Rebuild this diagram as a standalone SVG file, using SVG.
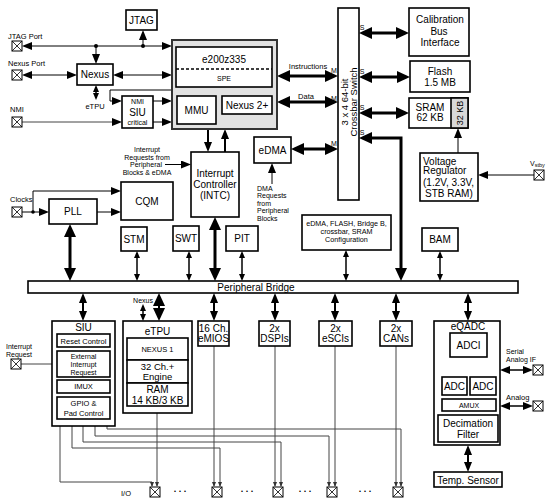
<svg xmlns="http://www.w3.org/2000/svg" xmlns:xlink="http://www.w3.org/1999/xlink" width="554" height="503" viewBox="0 0 554 503">
<style>
.b{fill:#fff;stroke:#000;stroke-width:1.6}
.t{font-family:"Liberation Sans",Arial,sans-serif;font-size:10px;text-anchor:middle;dominant-baseline:central;fill:#000}
.s{font-size:7.5px}
.q{font-size:7px}
.xs{font-size:7px}
.l{text-anchor:start}
.c1{fill:none;stroke:#000;stroke-width:1}
.c2{fill:none;stroke:#000;stroke-width:2}
.c3{fill:none;stroke:#000;stroke-width:3}
.cs{fill:none;stroke:#000;stroke-width:1.5}
.w{fill:none;stroke:#444;stroke-width:1}
.B{marker-end:url(#aB);marker-start:url(#aB)}
.Be{marker-end:url(#aB)}
.M{marker-end:url(#aM);marker-start:url(#aM)}
.Me{marker-end:url(#aM)}
.S{marker-end:url(#aS);marker-start:url(#aS)}
.T{marker-end:url(#aT);marker-start:url(#aT)}
.Te{marker-end:url(#aT)}
</style>
<defs>
<marker id="aB" viewBox="0 0 13 12" refX="8" refY="6" markerWidth="13" markerHeight="12" markerUnits="userSpaceOnUse" orient="auto-start-reverse"><path d="M0,0L13,6L0,12z"/></marker>
<marker id="aM" viewBox="0 0 10 8" refX="7" refY="4" markerWidth="10" markerHeight="8" markerUnits="userSpaceOnUse" orient="auto-start-reverse"><path d="M0,0L10,4L0,8z"/></marker>
<marker id="aS" viewBox="0 0 7 6" refX="5" refY="3" markerWidth="7" markerHeight="6" markerUnits="userSpaceOnUse" orient="auto-start-reverse"><path d="M0,0L7,3L0,6z"/></marker>
<marker id="aT" viewBox="0 0 5 4" refX="4" refY="2" markerWidth="5" markerHeight="4" markerUnits="userSpaceOnUse" orient="auto-start-reverse"><path fill="#333" d="M0,0L5,2L0,4z"/></marker>
<g id="pad"><rect x="0" y="0" width="10" height="10" fill="#fff" stroke="#000" stroke-width="1"/><path d="M0,0L10,10M10,0L0,10" stroke="#000" stroke-width="0.8"/></g>
</defs>
<rect width="554" height="503" fill="#fff"/>

<g id="connectors">
<line class="c1 M" x1="25" y1="46" x2="169" y2="46"/>
<line class="c1 Me" x1="143" y1="46" x2="143" y2="33"/>
<line class="c1 Me" x1="96" y1="46" x2="96" y2="61"/>
<circle cx="96" cy="46" r="2"/>
<circle cx="143" cy="46" r="2"/>
<line class="c1 M" x1="25" y1="75" x2="74" y2="75"/>
<line class="c1 M" x1="116" y1="75" x2="169" y2="75"/>
<line class="cs S" x1="96" y1="87" x2="96" y2="98"/>
<line class="w Me" x1="22" y1="122" x2="119" y2="122"/>
<path class="c1 Me" d="M172,90H110V101H119"/>
<line class="c1 Me" x1="153" y1="101" x2="169" y2="101"/>
<line class="c1 Me" x1="153" y1="122" x2="169" y2="122"/>
<line class="c3 B" x1="282" y1="76" x2="333" y2="76"/>
<line class="c3 B" x1="282" y1="102" x2="333" y2="102"/>
<line class="c3 B" x1="296" y1="149" x2="333" y2="149"/>
<line class="c3 B" x1="364" y1="33" x2="404" y2="33"/>
<line class="c3 B" x1="364" y1="77" x2="405" y2="77"/>
<line class="c3 B" x1="364" y1="113" x2="404" y2="113"/>
<path class="c3 B" d="M364,138H401V276"/>
<line class="c1 Me" x1="458" y1="153" x2="458" y2="131"/>
<line class="c1 Me" x1="534" y1="175" x2="481" y2="175"/>
<line class="c1 Me" x1="272" y1="184" x2="272" y2="166"/>
<line class="c1 Me" x1="165" y1="164.5" x2="188" y2="164.5"/>
<line class="c2 Me" x1="208" y1="129" x2="208" y2="149"/>
<line class="c2 Me" x1="225" y1="152" x2="225" y2="132"/>
<line class="c1 Me" x1="22" y1="212" x2="46" y2="212"/>
<path class="c1 Me" d="M33,212V191H118"/>
<circle cx="33" cy="212" r="1.8"/>
<line class="c1 Me" x1="97" y1="212" x2="118" y2="212"/>
<line class="c3 B" x1="70" y1="229" x2="70" y2="276"/>
<line class="c3 B" x1="215" y1="222" x2="215" y2="276"/>
<line class="cs S" x1="137" y1="253" x2="137" y2="279"/>
<line class="cs S" x1="189" y1="253" x2="189" y2="279"/>
<line class="cs S" x1="242" y1="253" x2="242" y2="279"/>
<line class="cs S" x1="346" y1="252" x2="346" y2="279"/>
<line class="cs S" x1="440" y1="253" x2="440" y2="279"/>
<line class="c2 M" x1="83" y1="296" x2="83" y2="318"/>
<line class="c2 B" x1="159" y1="298" x2="159" y2="316"/>
<line class="cs S" x1="143" y1="306" x2="143" y2="319"/>
<line class="c2 M" x1="214" y1="296" x2="214" y2="318"/>
<line class="c2 M" x1="275" y1="296" x2="275" y2="318"/>
<line class="c2 M" x1="335" y1="296" x2="335" y2="318"/>
<line class="c2 M" x1="396" y1="296" x2="396" y2="318"/>
<line class="c2 M" x1="468" y1="296" x2="468" y2="318"/>
<line class="cs S" x1="454" y1="359" x2="454" y2="375"/>
<line class="cs S" x1="482" y1="359" x2="482" y2="375"/>
<line class="c1" x1="454" y1="395" x2="454" y2="399"/>
<line class="c1" x1="482" y1="395" x2="482" y2="399"/>
<line class="c2 M" x1="468" y1="448" x2="468" y2="469"/>
<line class="cs M" x1="503" y1="370" x2="530" y2="370"/>
<line class="cs M" x1="503" y1="406" x2="530" y2="406"/>
<line class="w Te" x1="21" y1="364" x2="56" y2="364"/>
<line class="w Te" x1="157" y1="413" x2="157" y2="486"/>
<line class="w Te" x1="214" y1="346" x2="214" y2="486"/>
<line class="w Te" x1="275" y1="346" x2="275" y2="486"/>
<line class="w Te" x1="335" y1="346" x2="335" y2="486"/>
<line class="w Te" x1="396" y1="346" x2="396" y2="486"/>
<path class="w T" d="M60,421V482H152V486"/>
<path class="w T" d="M72,421V448H220V486"/>
<path class="w T" d="M83,421V442H281V486"/>
<path class="w T" d="M95,421V436H329V486"/>
<path class="w T" d="M107,421V429H401V486"/>
</g>

<g id="labels">
<text class="t s l" x="8" y="36">JTAG Port</text>
<text class="t s l" x="8" y="63.5">Nexus Port</text>
<text class="t s l" x="10" y="109">NMI</text>
<text class="t s" x="95" y="106">eTPU</text>
<text class="t s l" x="10" y="199">Clocks</text>
<text class="t q" x="19" y="346.5">Interrupt</text>
<text class="t q" x="19" y="354.5">Request</text>
<text class="t s" x="308" y="66">Instructions</text>
<text class="t s" x="306" y="96">Data</text>
<text class="t xs" x="334" y="70">M</text>
<text class="t xs" x="334" y="98">M</text>
<text class="t xs" x="334" y="143">M</text>
<text class="t xs" x="362" y="27">S</text>
<text class="t xs" x="362" y="71">S</text>
<text class="t xs" x="362" y="107">S</text>
<text class="t xs" x="362" y="132">S</text>
<text class="t q" x="147" y="149.5">Interrupt</text>
<text class="t q" x="147" y="157">Requests from</text>
<text class="t q" x="146" y="164.5">Peripheral</text>
<text class="t q" x="147" y="172">Blocks &amp; eDMA</text>
<text class="t q l" x="257" y="188">DMA</text>
<text class="t q l" x="257" y="195.5">Requests</text>
<text class="t q l" x="257" y="203">from</text>
<text class="t q l" x="257" y="210.5">Peripheral</text>
<text class="t q l" x="257" y="218">Blocks</text>
<text class="t xs l" x="530" y="163">V<tspan font-size="5.5" dy="1.5">stby</tspan></text>
<text class="t q l" x="506" y="351.5">Serial</text>
<text class="t q l" x="506" y="359">Analog IF</text>
<text class="t s l" x="506" y="397">Analog</text>
<text class="t s" x="126" y="493">I/O</text>
<text class="t" x="143" y="300" style="font-size:7px">Nexus</text>
<text class="t" x="180" y="489" style="font-weight:bold;font-size:9px">. . .</text>
<text class="t" x="247" y="489" style="font-weight:bold;font-size:9px">. . .</text>
<text class="t" x="305" y="489" style="font-weight:bold;font-size:9px">. . .</text>
<text class="t" x="365" y="489" style="font-weight:bold;font-size:9px">. . .</text>
</g>

<g id="pads">
<use xlink:href="#pad" x="12" y="41"/>
<use xlink:href="#pad" x="12" y="70"/>
<use xlink:href="#pad" x="12" y="117"/>
<use xlink:href="#pad" x="12" y="207"/>
<use xlink:href="#pad" x="11" y="359"/>
<use xlink:href="#pad" x="534" y="170"/>
<use xlink:href="#pad" x="533" y="365"/>
<use xlink:href="#pad" x="533" y="401"/>
<use xlink:href="#pad" x="150" y="487"/>
<use xlink:href="#pad" x="212" y="487"/>
<use xlink:href="#pad" x="273" y="487"/>
<use xlink:href="#pad" x="327" y="487"/>
<use xlink:href="#pad" x="393" y="487"/>
</g>

<g id="jtag"><rect class="b" x="126" y="10" width="31" height="20"/><text class="t" x="141.5" y="20">JTAG</text></g>
<g id="nexus"><rect class="b" x="77" y="64" width="36" height="21"/><text class="t" x="95" y="74.5">Nexus</text></g>
<g id="nmi-siu"><rect class="b" x="122" y="96" width="31" height="32"/><text class="t xs" x="137.5" y="101.5">NMI</text><text class="t" x="137.5" y="112">SIU</text><text class="t xs" x="137.5" y="122.5">critical</text></g>
<g id="core">
<rect x="172" y="40" width="105" height="89" fill="#e2e2e2" stroke="#333" stroke-width="2"/>
<rect class="b" x="176" y="47" width="96" height="40"/>
<text class="t" x="224" y="59.5">e200z335</text>
<line x1="176" y1="69" x2="272" y2="69" stroke="#000" stroke-width="1.5" stroke-dasharray="3 2"/>
<text class="t xs" x="224" y="78.5">SPE</text>
<rect class="b" x="177" y="96" width="39" height="28"/><text class="t" x="196.5" y="110">MMU</text>
<rect class="b" x="222" y="96" width="50" height="18"/><text class="t" x="247" y="105">Nexus 2+</text>
</g>
<g id="crossbar"><rect class="b" x="338" y="8" width="21" height="192"/>
<text class="t" style="font-size:9.5px" transform="rotate(-90 344 102)" x="344" y="102">3 x 4  64-bit</text>
<text class="t" style="font-size:9.5px" transform="rotate(-90 353 102)" x="353" y="102">Crossbar Switch</text></g>
<g id="calib"><rect class="b" x="409" y="8" width="60" height="48"/><text class="t" x="440" y="19.5">Calibration</text><text class="t" x="439" y="31.5">Bus</text><text class="t" x="440" y="42.5">Interface</text></g>
<g id="flash"><rect class="b" x="410" y="61" width="60" height="31"/><text class="t" x="440" y="71">Flash</text><text class="t" x="440" y="82">1.5 MB</text></g>
<g id="sram"><rect class="b" x="409" y="98" width="59" height="30"/><rect x="451" y="98" width="17" height="30" fill="#d8d8d8" stroke="#000" stroke-width="1.6"/>
<text class="t" x="430" y="107">SRAM</text><text class="t" x="430" y="117.5">62 KB</text>
<text class="t" style="font-size:9px" transform="rotate(-90 460 113)" x="460" y="113">32 KB</text></g>
<g id="vreg"><rect class="b" x="420" y="153" width="58" height="48"/>
<text class="t l" x="423" y="161">Voltage</text><text class="t l" x="423" y="170.5">Regulator</text><text class="t l" x="423" y="182.5">(1.2V, 3.3V,</text><text class="t l" x="425" y="193">STB RAM)</text></g>
<g id="edma"><rect class="b" x="254" y="137" width="37" height="26"/><text class="t" x="272.5" y="150">eDMA</text></g>
<g id="intc"><rect class="b" x="191" y="152" width="48" height="65"/><text class="t" x="215" y="173.5">Interrupt</text><text class="t" x="215" y="184">Controller</text><text class="t" x="215" y="195">(INTC)</text></g>
<g id="cqm"><rect class="b" x="121" y="182" width="52" height="38"/><text class="t" x="147" y="201">CQM</text></g>
<g id="pll"><rect class="b" x="49" y="199" width="48" height="25"/><text class="t" x="73" y="211.5">PLL</text></g>
<g id="stm"><rect class="b" x="121" y="227" width="26" height="24"/><text class="t" x="134" y="239">STM</text></g>
<g id="swt"><rect class="b" x="173" y="226" width="26" height="25"/><text class="t" x="186" y="238.5">SWT</text></g>
<g id="pit"><rect class="b" x="226" y="226" width="32" height="25"/><text class="t" x="242" y="238.5">PIT</text></g>
<g id="config"><rect class="b" x="302" y="215" width="89" height="35"/>
<text class="t" style="font-size:7.2px" x="346.5" y="223">eDMA, FLASH, Bridge B,</text><text class="t" style="font-size:7.2px" x="346.5" y="231">crossbar, SRAM</text><text class="t" style="font-size:7.2px" x="346.5" y="239.5">Configuration</text></g>
<g id="bam"><rect class="b" x="422" y="228" width="36" height="23"/><text class="t" x="440" y="239.5">BAM</text></g>
<g id="bridge"><rect class="b" x="28" y="281" width="490" height="12"/><text class="t" x="256" y="287">Peripheral Bridge</text></g>
<g id="siu"><rect class="b" x="52" y="321" width="63" height="105"/><text class="t" x="83.5" y="327.5">SIU</text>
<rect class="b" x="57" y="334" width="53" height="13"/><text class="t s" x="83.5" y="341">Reset Control</text>
<rect class="b" x="57" y="351" width="53" height="26"/><text class="t q" x="83.5" y="356">External</text><text class="t q" x="83.5" y="364">Interrupt</text><text class="t q" x="83.5" y="372">Request</text>
<rect class="b" x="57" y="380" width="53" height="13"/><text class="t s" x="83.5" y="386.5">IMUX</text>
<rect class="b" x="57" y="397" width="53" height="22"/><text class="t s" x="83.5" y="403">GPIO &amp;</text><text class="t s" x="83.5" y="413">Pad Control</text></g>
<g id="etpu"><rect class="b" x="123" y="321" width="69" height="92"/><text class="t" x="157.5" y="331">eTPU</text>
<rect class="b" x="127" y="338" width="61" height="22"/><text class="t s" x="157.5" y="349">NEXUS 1</text>
<rect class="b" x="127" y="360" width="61" height="23"/><text class="t" style="font-size:9.5px" x="157.5" y="366">32 Ch.+</text><text class="t" style="font-size:9.5px" x="157.5" y="376.5">Engine</text>
<rect class="b" x="127" y="383" width="61" height="23"/><text class="t" x="157.5" y="389.5">RAM</text><text class="t" x="157.5" y="400">14 KB/3 KB</text></g>
<g id="emios"><rect class="b" x="198" y="321" width="31" height="25"/><text class="t" x="213.5" y="328">16 Ch.</text><text class="t" x="213.5" y="338.5">eMIOS</text></g>
<g id="dspi"><rect class="b" x="259" y="321" width="31" height="25"/><text class="t" x="274.5" y="328">2x</text><text class="t" x="274.5" y="338.5">DSPIs</text></g>
<g id="esci"><rect class="b" x="319" y="321" width="33" height="25"/><text class="t" x="335.5" y="328">2x</text><text class="t" x="335.5" y="338.5">eSCIs</text></g>
<g id="can"><rect class="b" x="380" y="321" width="32" height="25"/><text class="t" x="396" y="328">2x</text><text class="t" x="396" y="338.5">CANs</text></g>
<g id="eqadc"><rect class="b" x="434" y="321" width="66" height="124"/><text class="t" x="468" y="326.5">eQADC</text>
<rect class="b" x="450" y="333" width="37" height="24"/><text class="t" x="468.5" y="345">ADCI</text>
<rect class="b" x="442" y="377" width="25" height="18"/><text class="t" x="454.5" y="386">ADC</text>
<rect class="b" x="470" y="377" width="26" height="18"/><text class="t" x="483" y="386">ADC</text>
<rect class="b" x="442" y="399" width="54" height="12"/><text class="t xs" x="469" y="405">AMUX</text>
<rect class="b" x="438" y="415" width="60" height="27"/><text class="t" x="468" y="423">Decimation</text><text class="t" x="468" y="434">Filter</text></g>
<g id="temp"><rect class="b" x="434" y="472" width="68" height="15"/><text class="t" x="468" y="480">Temp. Sensor</text></g>
</svg>
